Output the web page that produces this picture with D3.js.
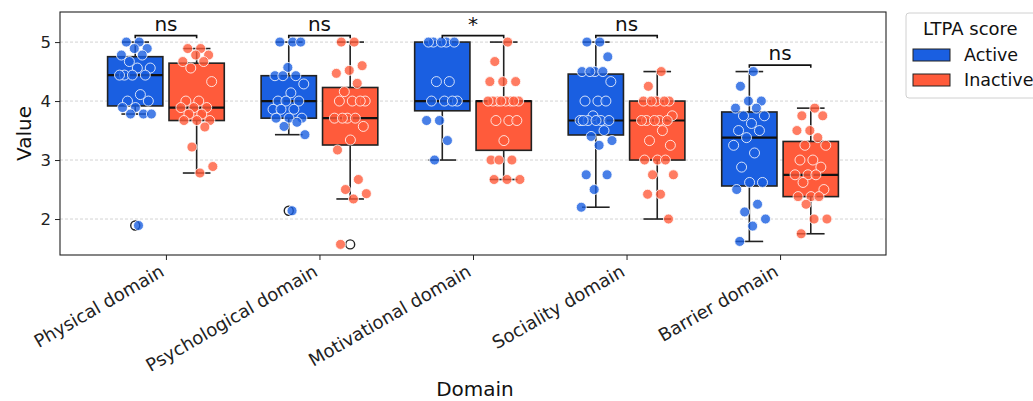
<!DOCTYPE html>
<html><head><meta charset="utf-8">
<script src="https://cdn.jsdelivr.net/npm/d3@7"></script>
<style>body{margin:0;background:#fff} svg{display:block;font-family:"DejaVu Sans",sans-serif}</style>
</head><body><svg id="c" width="1033" height="401"></svg>
<script>
const domains = ["Physical domain","Psychological domain","Motivational domain","Sociality domain","Barrier domain"];
const groups = ["Active","Inactive"];
const groupColors = ["#1a5fe1","#ff5b3b"];
const yTicks = [2,3,4,5];
const sigLabels = ["ns","ns","*","ns","ns"];

const physicalActive = [5.0,5.0,4.89,4.89,4.78,4.78,4.67,4.56,4.56,4.44,4.44,4.44,4.44,4.11,4.0,4.0,3.89,3.89,3.78,3.78,3.78,1.89];
const physicalInactive = [4.89,4.89,4.78,4.78,4.67,4.67,4.56,4.33,4.0,4.0,3.89,3.89,3.89,3.78,3.78,3.67,3.67,3.67,3.56,3.22,2.89,2.78];
const psychologicalActive = [5.0,5.0,5.0,4.57,4.43,4.43,4.43,4.29,4.14,4.0,4.0,4.0,3.86,3.86,3.86,3.71,3.71,3.71,3.64,3.57,3.43,2.14];
const psychologicalInactive = [5.0,5.0,4.6,4.52,4.47,4.3,4.16,4.0,4.0,4.0,4.0,3.71,3.71,3.71,3.71,3.57,3.34,3.17,2.67,2.5,2.43,2.34,1.57];
const motivationalActive = [5.0,5.0,5.0,5.0,5.0,4.33,4.33,4.0,4.0,4.0,4.0,3.67,3.67,3.33,3.0];
const motivationalInactive = [5.0,4.67,4.33,4.33,4.33,4.0,4.0,4.0,4.0,4.0,4.0,4.0,4.0,3.67,3.67,3.67,3.33,3.0,3.0,3.0,2.67,2.67,2.67];
const socialityActive = [5.0,5.0,4.75,4.5,4.5,4.5,4.5,4.33,4.0,4.0,4.0,3.75,3.67,3.67,3.67,3.67,3.67,3.67,3.5,3.4,3.33,3.25,2.75,2.75,2.5,2.2];
const socialityInactive = [4.5,4.25,4.0,4.0,4.0,4.0,4.0,3.75,3.67,3.67,3.67,3.67,3.67,3.5,3.33,3.25,3.0,3.0,3.0,2.75,2.75,2.42,2.42,2.0];
const barrierActive = [4.5,4.25,4.0,4.0,3.88,3.88,3.75,3.75,3.62,3.5,3.5,3.38,3.25,3.12,2.88,2.62,2.62,2.5,2.25,2.12,2.0,1.88,1.62];
const barrierInactive = [3.88,3.75,3.75,3.5,3.5,3.38,3.25,3.25,3.0,3.0,2.88,2.75,2.75,2.75,2.62,2.5,2.38,2.38,2.38,2.25,2.0,2.0,1.75];

const seriesByDomain = [
  [physicalActive, physicalInactive],
  [psychologicalActive, psychologicalInactive],
  [motivationalActive, motivationalInactive],
  [socialityActive, socialityInactive],
  [barrierActive, barrierInactive]
];

const svg = d3.select("#c");
const P = {left:60, right:886, top:12, bottom:255};
const x = d3.scalePoint().domain(domains).range([P.left, P.right]).padding(0.69);
const step = x.step();
const xh = d3.scaleBand().domain(groups).range([-0.4*step, 0.4*step]);
const boxW = xh.bandwidth()*0.9;
const y = d3.scaleLinear().domain([1.39, 5.51]).range([P.bottom, P.top]);
const color = d3.scaleOrdinal().domain(groups).range(groupColors);

// grid
svg.append("g").selectAll("line").data(yTicks).join("line")
  .attr("x1", P.left).attr("x2", P.right)
  .attr("y1", d=>y(d)).attr("y2", d=>y(d))
  .attr("stroke", "#c8c8c8").attr("stroke-width", 0.8).attr("stroke-dasharray", "3,2");

function stats(vals){
  const s = vals.slice().sort(d3.ascending);
  const q1 = d3.quantile(s, 0.25), med = d3.quantile(s, 0.5), q3 = d3.quantile(s, 0.75);
  const iqr = q3 - q1;
  const lo = d3.min(s.filter(v => v >= q1 - 1.5*iqr));
  const hi = d3.max(s.filter(v => v <= q3 + 1.5*iqr));
  const out = s.filter(v => v < lo || v > hi);
  return {q1, med, q3, lo, hi, out};
}

const gBox = svg.append("g");
const gPts = svg.append("g");
domains.forEach((dom, di) => {
  groups.forEach((gr, gi) => {
    const vals = seriesByDomain[di][gi];
    const st = stats(vals);
    const cx = x(dom) + xh(gr) + xh.bandwidth()/2;
    const g = gBox.append("g");
    g.append("line").attr("x1", cx).attr("x2", cx).attr("y1", y(st.q1)).attr("y2", y(st.lo)).attr("stroke","#222").attr("stroke-width",1.6);
    g.append("line").attr("x1", cx).attr("x2", cx).attr("y1", y(st.q3)).attr("y2", y(st.hi)).attr("stroke","#222").attr("stroke-width",1.6);
    g.append("line").attr("x1", cx-boxW/4).attr("x2", cx+boxW/4).attr("y1", y(st.lo)).attr("y2", y(st.lo)).attr("stroke","#222").attr("stroke-width",1.6);
    g.append("line").attr("x1", cx-boxW/4).attr("x2", cx+boxW/4).attr("y1", y(st.hi)).attr("y2", y(st.hi)).attr("stroke","#222").attr("stroke-width",1.6);
    g.append("rect").attr("x", cx-boxW/2).attr("width", boxW)
      .attr("y", y(st.q3)).attr("height", Math.max(0, y(st.q1)-y(st.q3)))
      .attr("fill", color(gr)).attr("stroke","#222").attr("stroke-width",1.6);
    g.append("line").attr("x1", cx-boxW/2).attr("x2", cx+boxW/2).attr("y1", y(st.med)).attr("y2", y(st.med)).attr("stroke","#111").attr("stroke-width",2.2);
    g.selectAll("circle").data(st.out).join("circle")
      .attr("cx", cx).attr("cy", d=>y(d)).attr("r", 4.5)
      .attr("fill","none").attr("stroke","#222").attr("stroke-width",1.4);
    const jw = 0.11*step;
    gPts.append("g").selectAll("circle").data(vals).join("circle")
      .attr("cx", (d,i) => cx + ((((i+1)*0.618034) % 1) - 0.5)*2*jw)
      .attr("cy", d => y(d)).attr("r", 5)
      .attr("fill", color(gr)).attr("fill-opacity", 0.8)
      .attr("stroke", "#fff").attr("stroke-width", 0.9).attr("stroke-opacity", 0.9);
  });
});

// significance brackets
const gSig = svg.append("g");
domains.forEach((dom, di) => {
  const top = d3.max(seriesByDomain[di].flat());
  const by = y(top + 0.11), tick = y(top + 0.11) - y(top + 0.065);
  const x1 = x(dom) + xh("Active") + xh.bandwidth()/2;
  const x2 = x(dom) + xh("Inactive") + xh.bandwidth()/2;
  gSig.append("path")
    .attr("d", `M${x1},${by - tick}L${x1},${by}L${x2},${by}L${x2},${by - tick}`)
    .attr("fill","none").attr("stroke","#111").attr("stroke-width",1.6);
  gSig.append("text").attr("x", (x1+x2)/2).attr("y", by - 5)
    .attr("text-anchor","middle").attr("font-size", 20).attr("fill","#111")
    .text(sigLabels[di]);
});

// frame
svg.append("rect").attr("x", P.left).attr("y", P.top).attr("width", P.right-P.left).attr("height", P.bottom-P.top)
  .attr("fill","none").attr("stroke","#222").attr("stroke-width",1.1);

// axes
const ay = svg.append("g").attr("transform", `translate(${P.left},0)`)
  .call(d3.axisLeft(y).tickValues(yTicks).tickSize(5).tickPadding(4).tickFormat(d3.format("d")));
ay.select(".domain").remove();
ay.selectAll("text").attr("font-size", 16.5).attr("fill","#222").attr("font-family","DejaVu Sans");
ay.selectAll("line").attr("stroke","#222");

const ax = svg.append("g").attr("transform", `translate(0,${P.bottom})`)
  .call(d3.axisBottom(x).tickSize(5));
ax.select(".domain").remove();
ax.selectAll("line").attr("stroke","#222");
ax.selectAll("text").attr("font-size", 18).attr("fill","#222").attr("font-family","DejaVu Sans")
  .attr("text-anchor","end").attr("x",0).attr("y",0).attr("dy",0)
  .attr("transform","translate(-1,20) rotate(-30)");

svg.append("text").attr("transform", `translate(31,${(P.top+P.bottom)/2}) rotate(-90)`)
  .attr("text-anchor","middle").attr("font-size",20).attr("fill","#111").text("Value");
svg.append("text").attr("x", (P.left+P.right)/2 + 2).attr("y", 396)
  .attr("text-anchor","middle").attr("font-size",20).attr("fill","#111").text("Domain");

// legend
const lg = svg.append("g");
lg.append("rect").attr("x",906).attr("y",13).attr("width",150).attr("height",85).attr("rx",3)
  .attr("fill","#fff").attr("fill-opacity",0.8).attr("stroke","#d0d0d0");
lg.append("text").attr("x",923).attr("y",35).attr("font-size",18).attr("fill","#111").text("LTPA score");
groups.forEach((gr, i) => {
  lg.append("rect").attr("x",913).attr("y",49 + i*25).attr("width",37).attr("height",12)
    .attr("fill", color(gr)).attr("stroke","#222").attr("stroke-width",1);
  lg.append("text").attr("x",964).attr("y",61 + i*25).attr("font-size",17.5).attr("fill","#111").text(gr);
});
</script></body></html>
